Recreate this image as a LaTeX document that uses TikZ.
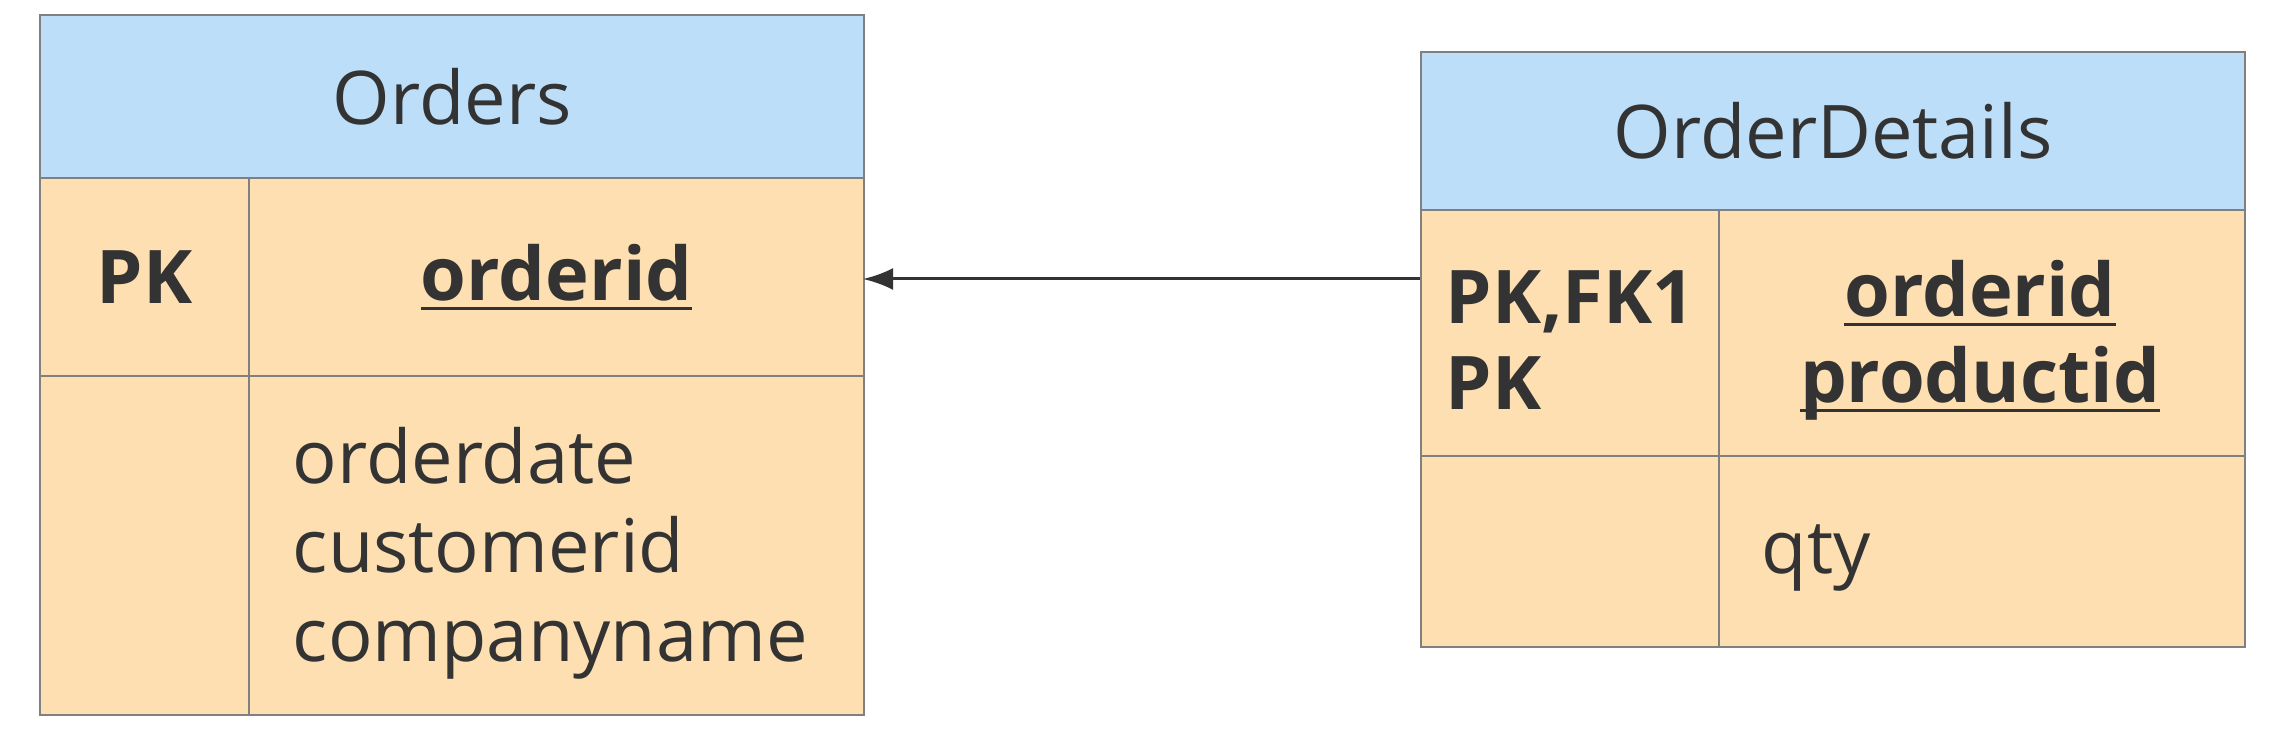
\documentclass[tikz,border=0pt]{standalone}
\usepackage{fontspec}
\setmainfont{Open Sans}
\usetikzlibrary{arrows.meta}
\definecolor{hdr}{RGB}{188,222,248}
\definecolor{bodyc}{RGB}{253,223,178}
\definecolor{edgec}{RGB}{128,128,128}
\definecolor{ink}{RGB}{51,51,51}
\newcommand\ulin[1]{\setbox0\hbox{#1}\rlap{\rule[-2.4pt]{\wd0}{0.8pt}}\box0}
\begin{document}
\begin{tikzpicture}[x=0.25pt,y=-0.25pt,
  cell/.style={draw=edgec, line width=0.6pt, inner sep=0pt, anchor=north west, text=ink,
    font=\fontsize{18.5}{22}\selectfont},
  head/.style={cell, fill=hdr},
  bod/.style={cell, fill=bodyc},
  txt/.style={inner sep=0pt, text=ink, font=\fontsize{18.5}{22}\selectfont},
  conn/.style={draw=ink, line width=0.75pt, shorten >=-0.6pt, -{Latex[length=7.5pt,width=5.5pt]}}]
\useasboundingbox (0,0) rectangle (2270,734);
% Orders
\node[head, minimum width=206pt, minimum height=40.75pt] (oh) at (39,14) {Orders};
\node[bod, minimum width=52.25pt, minimum height=49.5pt] (opkk) at (39,177) {\bfseries PK};
\node[bod, minimum width=153.75pt, minimum height=49.5pt] (opkf) at (248,177) {\bfseries\ulin{orderid}};
\node[bod, minimum width=52.25pt, minimum height=84.75pt] (oatk) at (39,375) {};
\node[bod, minimum width=153.75pt, minimum height=84.75pt] (oatf) at (248,375) {};
\node[txt, anchor=west, align=left, font=\fontsize{18.5}{22.25}\selectfont] (oattr) at (292,553) {orderdate\\customerid\\companyname};
% OrderDetails
\node[head, minimum width=206pt, minimum height=39.5pt] (dh) at (1420,51) {OrderDetails};
\node[bod, minimum width=74.5pt, minimum height=61.5pt] (dpkk) at (1420,209) {};
\node[bod, minimum width=131.5pt, minimum height=61.5pt] (dpkf) at (1718,209) {};
\node[bod, minimum width=74.5pt, minimum height=47.75pt] (datk) at (1420,455) {};
\node[bod, minimum width=131.5pt, minimum height=47.75pt] (datf) at (1718,455) {};
\node[txt, anchor=west, align=left, font=\bfseries\fontsize{18.5}{21.5}\selectfont] (dkeys) at (1445,340) {PK,FK1\\PK};
\node[txt, align=center, font=\bfseries\fontsize{18.5}{21.5}\selectfont] (dfields) at (1980,340) {\ulin{orderid}\\\ulin{productid}};
\node[txt, anchor=west] (dqty) at (1761,558) {qty};
% connector
\coordinate (ay) at (0,279);
\draw[conn] (dpkk.west |- ay) -- (opkf.east |- ay);
\end{tikzpicture}
\end{document}
